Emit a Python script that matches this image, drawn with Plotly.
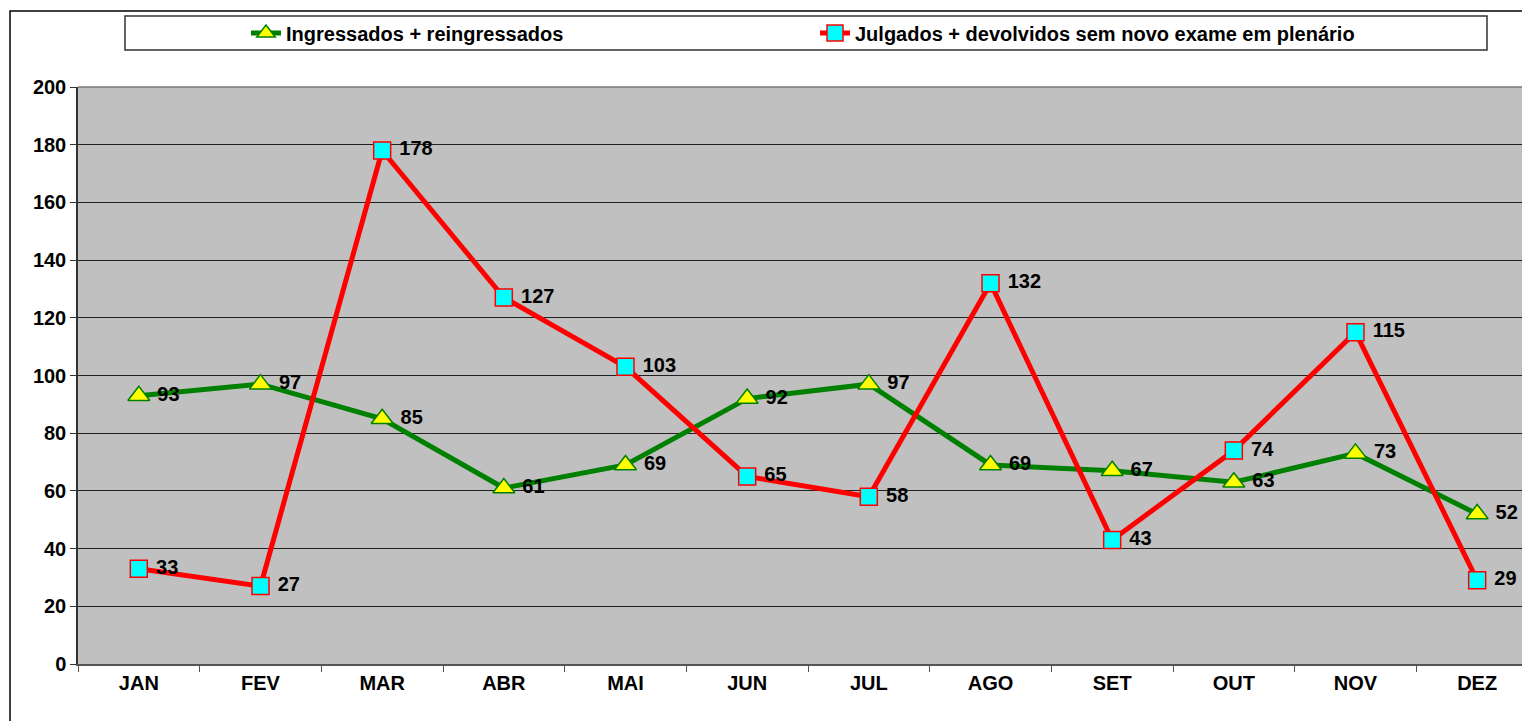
import plotly.graph_objects as go

months = ["JAN", "FEV", "MAR", "ABR", "MAI", "JUN", "JUL", "AGO", "SET", "OUT", "NOV", "DEZ"]
ingressados = [93, 97, 85, 61, 69, 92, 97, 69, 67, 63, 73, 52]
julgados = [33, 27, 178, 127, 103, 65, 58, 132, 43, 74, 115, 29]
name_green = "Ingressados + reingressados"
name_red = "Julgados + devolvidos sem novo exame em plenário"

OFF = 8  # page body margin
W, H = 1530, 721 - OFF
L, R, T, B = 70, 0, 79, 57
pw = W - L - R
ph = H - T - B

def px(x):
    return (x - OFF - L) / pw

def py(y):
    return (H + OFF - B - y) / ph

FAM = "Liberation Sans, Arial, sans-serif"
bold = dict(family=FAM, size=20, color="black", weight="bold")

fig = go.Figure()
fig.add_trace(go.Scatter(
    x=months, y=ingressados, name=name_green, mode="lines+markers+text",
    line=dict(color="#008000", width=5),
    marker=dict(symbol="triangle-up", size=19, color="#FFFF00", line=dict(color="#008000", width=1.5)),
    text=["\u00a0" + str(v) for v in ingressados], textposition="middle right",
    textfont=bold,
    legend="legend", cliponaxis=False,
))
fig.add_trace(go.Scatter(
    x=months, y=julgados, name=name_red, mode="lines+markers+text",
    line=dict(color="#FF0000", width=5),
    marker=dict(symbol="square", size=17, color="#00FFFF", line=dict(color="#FF0000", width=1.5)),
    text=["\u00a0" + str(v) for v in julgados], textposition="middle right",
    textfont=bold,
    legend="legend2", cliponaxis=False,
))

legfont = dict(family=FAM, size=20, color="black", weight="bold")

fig.update_layout(
    width=W, height=H,
    margin=dict(l=L, r=R, t=T, b=B),
    paper_bgcolor="white", plot_bgcolor="#C0C0C0",
    font=dict(family=FAM, size=20, color="black"),
    showlegend=True,
    legend=dict(x=px(246), y=py(33), xanchor="left", yanchor="middle", orientation="h",
                bgcolor="rgba(0,0,0,0)", font=legfont, itemwidth=30),
    legend2=dict(x=px(815), y=py(33), xanchor="left", yanchor="middle", orientation="h",
                 bgcolor="rgba(0,0,0,0)", font=legfont, itemwidth=30),
    xaxis=dict(type="category", range=[-0.5, 11.5], showgrid=False,
               showline=True, linecolor="#555555", linewidth=1.5,
               ticks="outside", tickson="boundaries", ticklen=6, tickcolor="#555555",
               tickfont=bold, fixedrange=True),
    yaxis=dict(range=[0, 200], dtick=20, showgrid=True, gridcolor="#222222", gridwidth=1,
               showline=True, linecolor="#333333", linewidth=1.5,
               ticks="outside", ticklen=6, tickcolor="#333333", zeroline=False,
               tickfont=bold, fixedrange=True),
    shapes=[
        dict(type="rect", xref="paper", yref="paper", x0=px(10), x1=px(1560), y0=py(730), y1=py(11),
             line=dict(color="black", width=1.5), fillcolor="rgba(0,0,0,0)", layer="below"),
        dict(type="rect", xref="paper", yref="paper", x0=px(125), x1=px(1487), y0=py(50), y1=py(16),
             line=dict(color="#333333", width=1.5), fillcolor="white", layer="below"),
        dict(type="line", xref="paper", yref="paper", x0=0, x1=1, y0=1, y1=1,
             line=dict(color="#777777", width=1.5)),
    ],
)

fig.write_html(
    "out.html",
    post_script="document.documentElement.style.overflow='hidden';document.body.style.overflow='hidden';",
)
